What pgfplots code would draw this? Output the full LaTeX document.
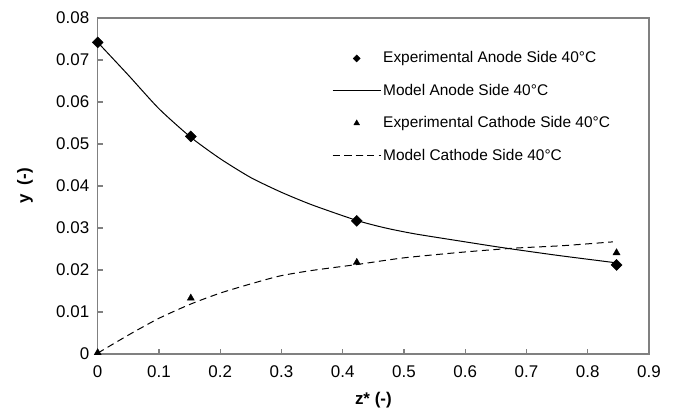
\documentclass[border=0pt]{standalone}
\usepackage{pgfplots}
\pgfplotsset{compat=1.18}
\usepackage{fontspec}
\setmainfont{Liberation Sans}
\begin{document}
\begin{tikzpicture}
\useasboundingbox (-97.7bp,-58bp) rectangle (578.3bp,354bp);
\begin{axis}[
  at={(0,0)}, anchor=south west,
  scale only axis, width=551.3bp, height=336bp,
  xmin=0, xmax=0.9, ymin=0, ymax=0.08,
  scaled x ticks=false, scaled y ticks=false,
  axis line style={draw=black!50, line width=1.2bp},
  tick style={draw=black!50, line width=1.1bp},
  major tick length=5bp,
  tick align=inside,
  xtick pos=bottom, ytick pos=left,
  xtick={0,0.1,0.2,0.3,0.4,0.5,0.6,0.7,0.8,0.9},
  xticklabels={0,0.1,0.2,0.3,0.4,0.5,0.6,0.7,0.8,0.9},
  ytick={0,0.01,0.02,0.03,0.04,0.05,0.06,0.07,0.08},
  yticklabels={0,0.01,0.02,0.03,0.04,0.05,0.06,0.07,0.08},
  tick label style={font=\fontsize{17}{20}\selectfont},
  xticklabel style={yshift=-8bp},
  yticklabel style={xshift=-5bp},
  xlabel={z* (-)}, ylabel={y\ \ (-)},
  every axis x label/.style={at={(axis description cs:0.5,-0.1369)}, anchor=center, font=\fontsize{17}{20}\selectfont\bfseries},
  every axis y label/.style={at={(axis description cs:-0.1319,0.5)}, rotate=90, anchor=center, font=\fontsize{17}{20}\selectfont\bfseries},
  legend style={draw=none, fill=none, at={(axis description cs:0.4196,0.912)}, anchor=north west,
    font=\fontsize{15.5}{18}\selectfont, row sep=15bp, nodes={text depth=0.22em}},
  legend cell align=left,
  legend image code/.code={\draw[mark repeat=2,mark phase=2,#1] plot coordinates {(0bp,0bp) (24bp,0bp) (48bp,0bp)};},
]
\addplot[only marks, mark=square*, mark size=3.9bp, mark options={rotate=45, fill=black, draw=black},
  legend image post style={mark size=2.5bp}]
  coordinates {(0,0.0742) (0.152,0.0518) (0.423,0.0317) (0.847,0.0212)};
\addlegendentry{Experimental Anode Side 40°C}
\addplot[black, line width=1bp, smooth, tension=0.4, mark=none]
  coordinates {(0,0.0742) (0.05,0.0664) (0.1,0.0584) (0.152,0.0516) (0.2,0.0465) (0.25,0.0420)
   (0.3,0.0385) (0.35,0.0355) (0.423,0.0318) (0.47,0.0300) (0.518,0.0286) (0.6,0.0267)
   (0.662,0.0253) (0.75,0.0235) (0.847,0.0217)};
\addlegendentry{Model Anode Side 40°C}
\addplot[only marks, mark=triangle*, mark size=4.1bp, mark options={fill=black, draw=black},
  legend image post style={mark size=3.3bp}]
  coordinates {(0,0.0003) (0.152,0.0133) (0.423,0.0218) (0.847,0.0241)};
\addlegendentry{Experimental Cathode Side 40°C}
\addplot[black, line width=1bp, dash pattern=on 7bp off 4.5bp, smooth, tension=0.4, mark=none]
  coordinates {(0,0.0002) (0.05,0.0045) (0.1,0.0085) (0.152,0.0119) (0.2,0.0145) (0.25,0.0167)
   (0.298,0.0186) (0.35,0.0199) (0.423,0.0213) (0.5,0.0229) (0.6,0.0243) (0.68,0.0252)
   (0.76,0.0258) (0.841,0.0267)};
\addlegendentry{Model Cathode Side 40°C}
\end{axis}
\end{tikzpicture}
\end{document}
